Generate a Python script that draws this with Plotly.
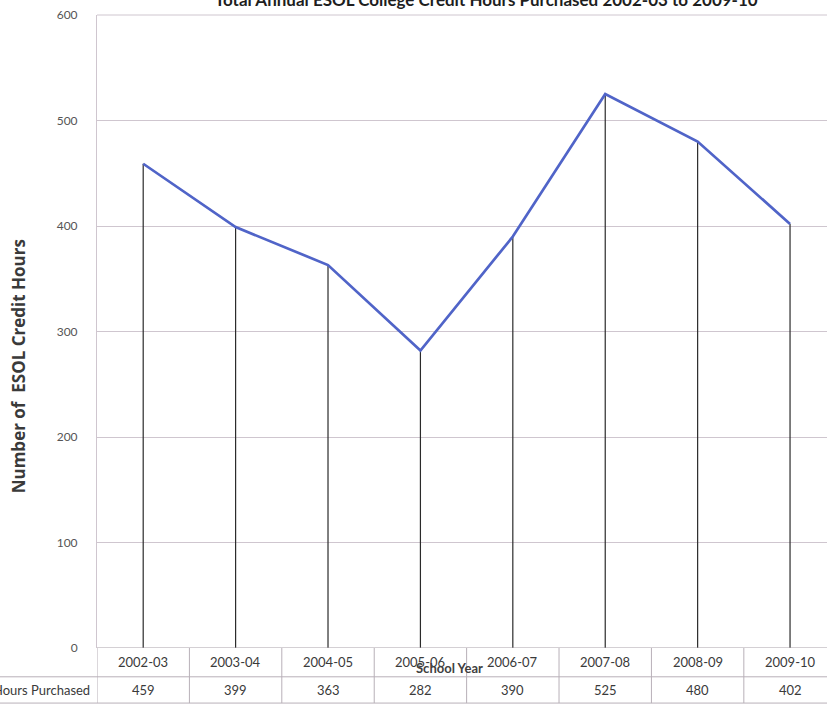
import plotly.graph_objects as go

# School years and ESOL credit hours purchased
school_years = ["2002-03", "2003-04", "2004-05", "2005-06",
                "2006-07", "2007-08", "2008-09", "2009-10"]
hours_purchased = [459, 399, 363, 282, 390, 525, 480, 402]
y_ticks = [0, 100, 200, 300, 400, 500, 600]
row_label = "Hours Purchased"

FONT = "Lato"
TEXT = "#3a3a3a"
GRID = "#cfc6cf"
TABLE_LINE = "#b8b0b8"

idx = list(range(len(school_years)))

# vertical drop lines from each point down to zero
drop_x, drop_y = [], []
for i, v in zip(idx, hours_purchased):
    drop_x += [i, i, None]
    drop_y += [0, v, None]

fig = go.Figure()
fig.add_trace(go.Scatter(x=drop_x, y=drop_y, mode="lines",
                         line=dict(color="#2b2b2b", width=1.2),
                         hoverinfo="skip", showlegend=False))
fig.add_trace(go.Scatter(x=idx, y=hours_purchased, mode="lines",
                         line=dict(color="#5064c8", width=2.7),
                         showlegend=False))

# data table under the plot: category row, value row
row1_top, row1_bot, row2_bot = 0.0, -0.0455, -0.087
shapes = []
n = len(school_years)
for k in range(n + 1):
    shapes.append(dict(type="line", xref="x", yref="paper",
                       x0=k - 0.5, x1=k - 0.5, y0=row2_bot, y1=row1_top,
                       line=dict(color=TABLE_LINE, width=1)))
for yy in (row1_bot, row2_bot):
    shapes.append(dict(type="line", xref="paper", yref="paper",
                       x0=-0.2, x1=1.0, y0=yy, y1=yy,
                       line=dict(color=TABLE_LINE, width=1)))
# x axis line along the top of the table
shapes.append(dict(type="line", xref="paper", yref="y",
                   x0=0, x1=1, y0=0, y1=0,
                   line=dict(color="#a9a1a9", width=1)))
# top border of the plot area
shapes.append(dict(type="line", xref="paper", yref="paper", x0=0, x1=1, y0=1, y1=1,
                   line=dict(color=GRID, width=1)))

cell_font = dict(family=FONT, size=13, color=TEXT)
annotations = []
for i, (yr, v) in enumerate(zip(school_years, hours_purchased)):
    annotations.append(dict(x=i, y=(row1_top + row1_bot) / 2, xref="x", yref="paper",
                            xanchor="center", yanchor="middle",
                            text=yr, showarrow=False, font=cell_font))
    annotations.append(dict(x=i, y=(row1_bot + row2_bot) / 2, xref="x", yref="paper",
                            xanchor="center", yanchor="middle",
                            text=str(v), showarrow=False, font=cell_font))
annotations.append(dict(x=-0.007, y=(row1_bot + row2_bot) / 2, xref="paper", yref="paper",
                        xanchor="right", yanchor="middle", text=row_label,
                        showarrow=False, font=cell_font))
annotations.append(dict(x=0.483, y=-0.032, xref="paper", yref="paper",
                        xanchor="center", yanchor="middle",
                        text="<b>School Year</b>", showarrow=False,
                        font=dict(family=FONT, size=13, color="#404040")))
# y axis title, placed a little below the plot's vertical centre
annotations.append(dict(x=(18 - 97) / 730, y=0.445, xref="paper", yref="paper",
                        text="<b>Number of  ESOL Credit Hours</b>", showarrow=False,
                        textangle=-90, xanchor="center", yanchor="middle",
                        font=dict(family="Open Sans", size=17, color="#3a3a3a")))

fig.update_layout(
    width=827, height=707,
    margin=dict(l=97, r=0, t=15, b=59),
    paper_bgcolor="white", plot_bgcolor="white",
    title=dict(text="<b>Total Annual ESOL College Credit Hours Purchased 2002-03 to 2009-10</b>",
               x=0.588, xanchor="center", y=1.0, yref="container", yanchor="middle",
               font=dict(family=FONT, size=17, color="#1e1e1e")),
    xaxis=dict(range=[-0.5, 7.4], showticklabels=False, showgrid=False,
               zeroline=False, showline=False, ticks=""),
    yaxis=dict(range=[0, 600], tickvals=y_ticks, showgrid=True, gridcolor=GRID,
               gridwidth=1, zeroline=False, showline=True, linecolor=GRID,
               ticks="", ticklabelstandoff=16,
               tickfont=dict(family=FONT, size=12, color="#555555")),
    shapes=shapes, annotations=annotations,
)

fig.write_html("out.html")
